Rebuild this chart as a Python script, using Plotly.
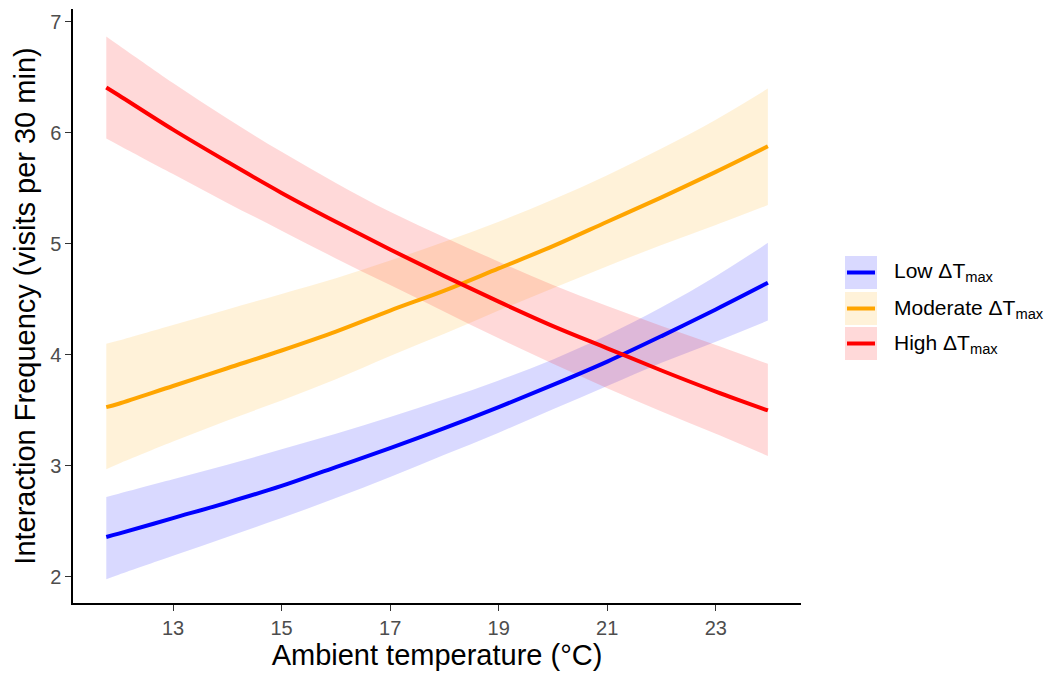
import plotly.graph_objects as go

# Ambient temperature grid (°C) at which the fitted curves are evaluated
temp = [11.77, 12, 13, 14, 15, 16, 17, 18, 19, 20, 21, 22, 23, 23.96]

# Low ΔTmax: fitted visits and 95% confidence band
low_fit = [2.36, 2.39, 2.53, 2.67, 2.82, 2.99, 3.16, 3.34, 3.53, 3.73, 3.94, 4.17, 4.41, 4.65]
low_lo = [1.98, 2.02, 2.19, 2.36, 2.53, 2.71, 2.90, 3.10, 3.30, 3.51, 3.72, 3.93, 4.12, 4.31]
low_hi = [2.72, 2.75, 2.88, 3.01, 3.15, 3.29, 3.44, 3.60, 3.77, 3.96, 4.18, 4.43, 4.71, 5.01]

# Moderate ΔTmax
mod_fit = [3.53, 3.56, 3.72, 3.88, 4.04, 4.21, 4.40, 4.58, 4.78, 4.98, 5.20, 5.42, 5.65, 5.88]
mod_lo = [2.97, 3.02, 3.22, 3.41, 3.59, 3.78, 3.99, 4.19, 4.40, 4.60, 4.80, 4.99, 5.17, 5.35]
mod_hi = [4.10, 4.13, 4.27, 4.41, 4.55, 4.69, 4.85, 5.02, 5.20, 5.40, 5.62, 5.86, 6.12, 6.40]

# High ΔTmax
high_fit = [6.41, 6.34, 6.03, 5.74, 5.46, 5.20, 4.95, 4.71, 4.48, 4.26, 4.06, 3.86, 3.67, 3.50]
high_lo = [5.95, 5.89, 5.63, 5.37, 5.12, 4.87, 4.63, 4.39, 4.15, 3.92, 3.70, 3.49, 3.29, 3.09]
high_hi = [6.87, 6.79, 6.45, 6.13, 5.83, 5.55, 5.29, 5.06, 4.84, 4.63, 4.44, 4.26, 4.09, 3.92]

x_ticks = [13, 15, 17, 19, 21, 23]
y_ticks = [2, 3, 4, 5, 6, 7]

groups = [
    ("Low ΔT<sub>max</sub>", low_fit, low_lo, low_hi, "rgb(0,0,255)", "rgba(0,0,255,0.15)"),
    ("Moderate ΔT<sub>max</sub>", mod_fit, mod_lo, mod_hi, "rgb(255,165,0)", "rgba(255,165,0,0.15)"),
    ("High ΔT<sub>max</sub>", high_fit, high_lo, high_hi, "rgb(255,0,0)", "rgba(255,0,0,0.15)"),
]

FONT = "Liberation Sans, Arial, sans-serif"

fig = go.Figure()

# Confidence ribbons first
for name, fit, lo, hi, col, fill in groups:
    fig.add_trace(go.Scatter(x=temp, y=hi, mode="lines", line=dict(width=0, color=fill, shape="spline"),
                             showlegend=False, hoverinfo="skip"))
    fig.add_trace(go.Scatter(x=temp, y=lo, mode="lines", line=dict(width=0, color=fill, shape="spline"),
                             fill="tonexty", fillcolor=fill, showlegend=False, hoverinfo="skip"))

# Fitted lines on top
for name, fit, lo, hi, col, fill in groups:
    fig.add_trace(go.Scatter(x=temp, y=fit, mode="lines",
                             line=dict(width=4, color=col, shape="spline"),
                             name=name, showlegend=False))

# Plot area geometry (pixels)
W, H = 1061, 675
L, R, T, B = 73, 260, 9, 72
pw, ph = W - L - R, H - T - B


def px_x(p):
    return (p - L) / pw


def px_y(p):
    return (H - B - p) / ph


# Legend keys drawn as boxes with a line and label
shapes = []
annotations = []
key_rows = [(256, 289), (292, 325), (327, 360)]
for (name, fit, lo, hi, col, fill), (y0, y1) in zip(groups, key_rows):
    shapes.append(dict(type="rect", xref="paper", yref="paper",
                       x0=px_x(845), x1=px_x(877), y0=px_y(y1), y1=px_y(y0),
                       fillcolor=fill, line=dict(width=0), layer="above"))
    ym = (y0 + y1) / 2
    shapes.append(dict(type="line", xref="paper", yref="paper",
                       x0=px_x(847), x1=px_x(875), y0=px_y(ym), y1=px_y(ym),
                       line=dict(color=col, width=4), layer="above"))
    annotations.append(dict(xref="paper", yref="paper", x=px_x(892), y=px_y(ym),
                            xanchor="left", yanchor="middle", showarrow=False,
                            text=name, font=dict(family=FONT, size=21, color="black")))

fig.update_layout(
    width=W, height=H,
    margin=dict(l=L, r=R, t=T, b=B),
    plot_bgcolor="white", paper_bgcolor="white",
    showlegend=False,
    shapes=shapes,
    annotations=annotations,
    font=dict(family=FONT),
)

fig.update_xaxes(
    range=[11.157, 24.57], tickvals=x_ticks, ticks="outside", ticklen=6, tickwidth=1.2,
    tickcolor="#333333", showline=True, linecolor="black", linewidth=1.5,
    showgrid=False, zeroline=False,
    tickfont=dict(family=FONT, size=20, color="#4d4d4d"),
    title=dict(text="Ambient temperature (°C)", font=dict(family=FONT, size=29, color="black"),
               standoff=4),
)
fig.update_yaxes(
    range=[1.765, 7.117], tickvals=y_ticks, ticks="outside", ticklen=6, tickwidth=1.2,
    tickcolor="#333333", showline=True, linecolor="black", linewidth=1.5,
    showgrid=False, zeroline=False,
    tickfont=dict(family=FONT, size=20, color="#4d4d4d"),
    title=dict(text="Interaction Frequency (visits per 30 min)",
               font=dict(family=FONT, size=29, color="black"), standoff=6),
)

fig.write_html("out.html")
